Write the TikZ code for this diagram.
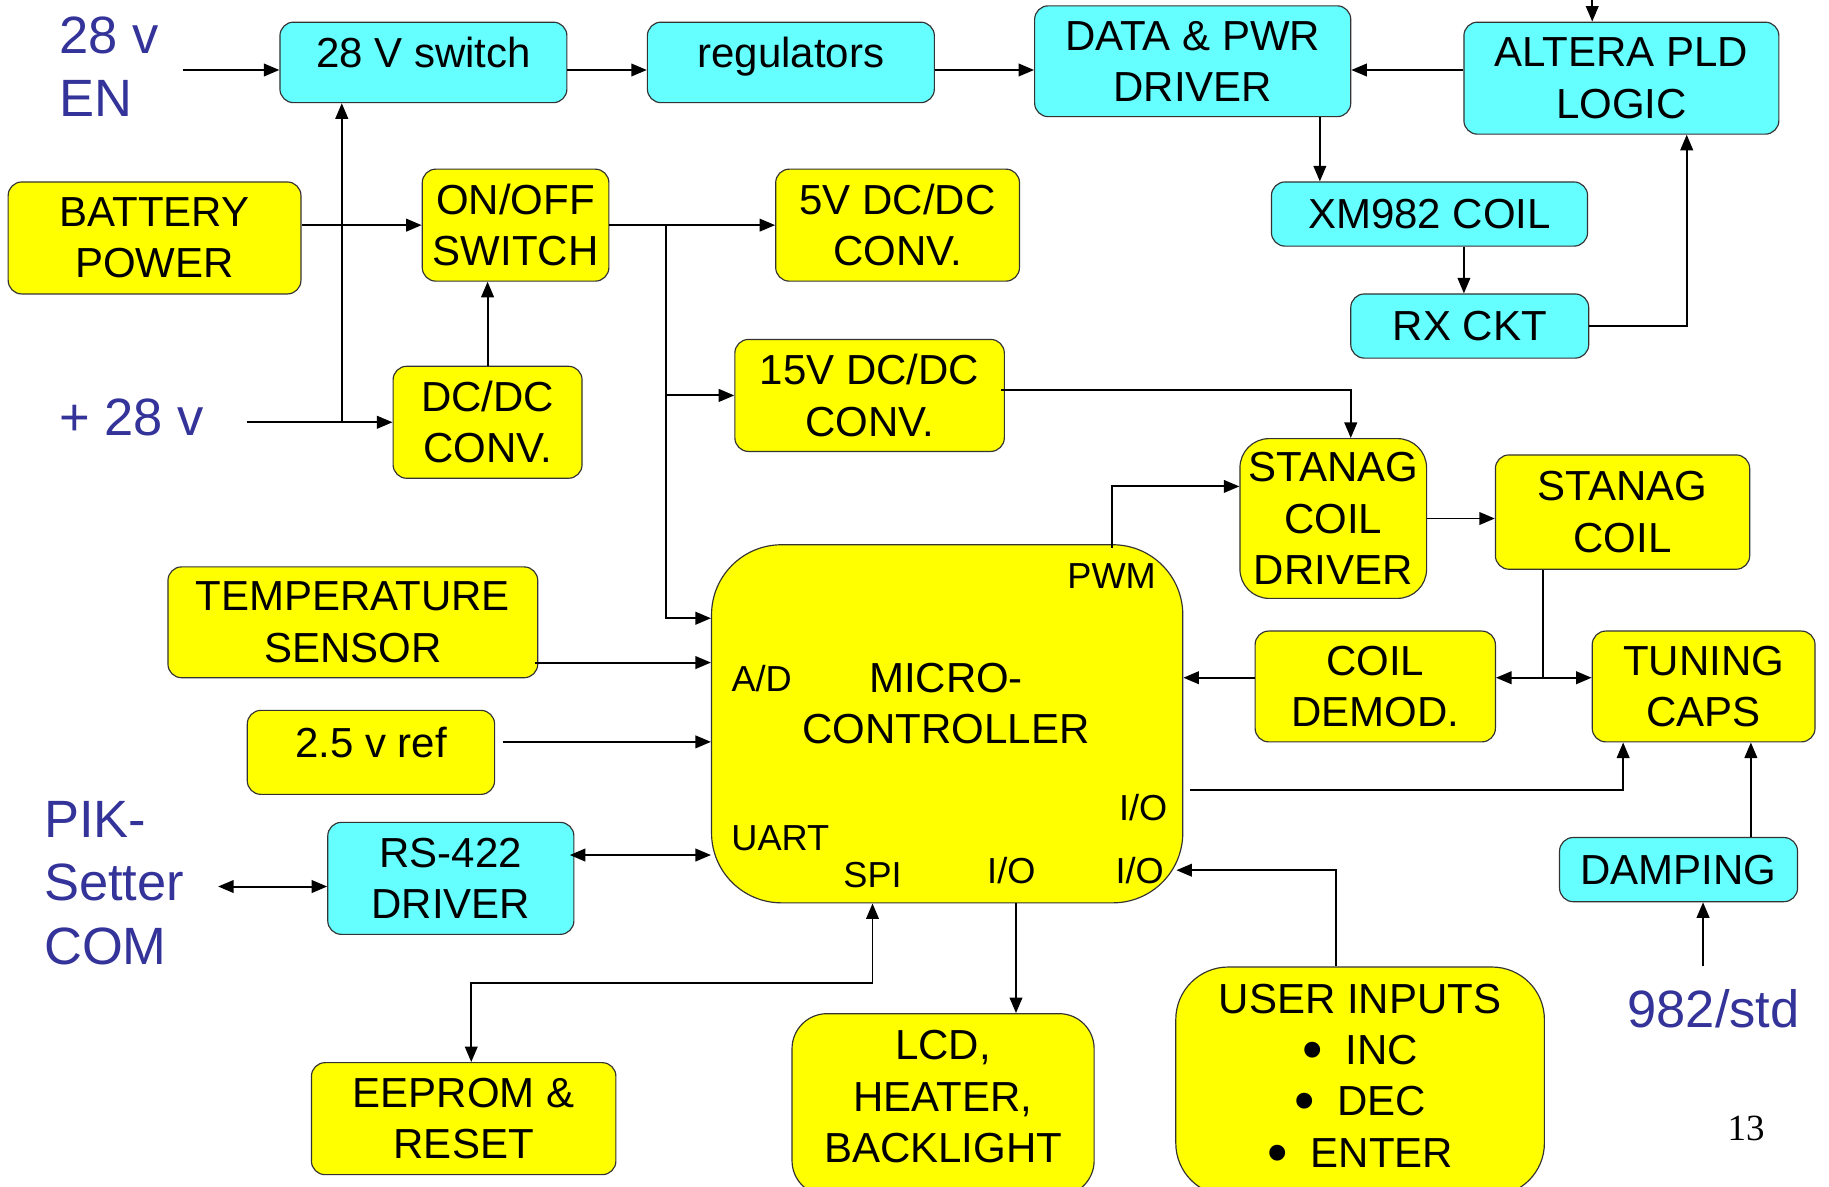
\documentclass[tikz,border=0pt]{standalone}
\usepackage{fontspec}
\setmainfont{Liberation Sans}
\newfontfamily\pgnumfont{Liberation Serif}
\usepackage{tikz}
\usetikzlibrary{arrows.meta,calc}
\definecolor{boxyel}{HTML}{FFFF00}
\definecolor{boxcyan}{HTML}{66FFFF}
\definecolor{lblblue}{HTML}{333399}
\newcommand\bigdot{\raisebox{-2.5pt}{\fontsize{30}{26.4}\selectfont\textbullet}\hspace{0.55em}}

\begin{document}
\begin{tikzpicture}[x=0.6pt,y=-0.6pt,
   font=\fontsize{21.6}{26.4}\selectfont,
   ybox/.style={draw=black!80,line width=0.6pt,rounded corners=7pt,fill=boxyel,
              align=center,inner sep=0pt},
   cbox/.style={ybox,fill=boxcyan},
   boxwh/.style 2 args={minimum width=#1*0.6pt,minimum height=#2*0.6pt},
   hitext/.style={text height=15.6pt,text depth=10.4pt},
   lbl/.style={text=lblblue,align=left,inner sep=0pt,font=\fontsize{27}{32.5}\selectfont},
   pin/.style={inner sep=0pt,font=\fontsize{18.6}{22}\selectfont},
   line width=1pt,>={Triangle[length=8pt,width=6.5pt]},
]
\useasboundingbox (0,0) rectangle (1568,1017);
\clip (0,0) rectangle (1568,1017);
\fill[white] (0,0) rectangle (1568,1017);

% cyan blocks
\node[cbox,boxwh={246}{69},hitext] (sw28) at (363,53.5) {28 V switch};
\node[cbox,boxwh={246}{69},hitext] (reg) at (678,53.5) {regulators};
\node[cbox,boxwh={271}{95}] (drv) at (1022.5,52.5) {DATA \& PWR\\DRIVER};
\node[cbox,boxwh={270}{96}] (pld) at (1390,67) {ALTERA PLD\\LOGIC};
\node[cbox,boxwh={271}{55}] (xm) at (1225.5,183.5) {XM982 COIL};
\node[cbox,boxwh={204}{55}] (rx) at (1260,279.5) {RX CKT};
\node[cbox,boxwh={204}{55}] (damp) at (1439,745.5) {DAMPING};
\node[cbox,boxwh={211}{96}] (rs) at (386.5,753) {RS-422\\DRIVER};

% yellow blocks
\node[ybox,boxwh={251}{96}] (batt) at (132.5,204) {BATTERY\\POWER};
\node[ybox,boxwh={160}{96}] (onoff) at (442,193) {ON/OFF\\SWITCH};
\node[ybox,boxwh={209}{96}] (dc5) at (769.5,193) {5V DC/DC\\CONV.};
\node[ybox,boxwh={231}{96}] (dc15) at (745.5,339) {15V DC/DC\\CONV.};
\node[ybox,boxwh={162}{96}] (dcdc) at (418,362) {DC/DC\\CONV.};
\node[ybox,boxwh={160}{137},rounded corners=15pt] (drvst) at (1143,444.5) {STANAG\\COIL\\DRIVER};
\node[ybox,boxwh={218}{98}] (coil) at (1391,439) {STANAG\\COIL};
\node[ybox,boxwh={206}{95}] (demod) at (1179,588.5) {COIL\\DEMOD.};
\node[ybox,boxwh={191}{95}] (tune) at (1460.5,588.5) {TUNING\\CAPS};
\node[ybox,boxwh={317}{95}] (temp) at (302.5,533.5) {TEMPERATURE\\SENSOR};
\node[ybox,boxwh={212}{72},hitext] (ref) at (318,645) {2.5 v ref};
\node[ybox,boxwh={261}{96}] (eep) at (397.5,959) {EEPROM \&\\RESET};
\node[ybox,boxwh={259}{156},rounded corners=18pt,text depth=8.4pt] (lcd) at (808.5,947)
     {LCD,\\HEATER,\\BACKLIGHT};
\node[ybox,boxwh={316}{196},rounded corners=27pt,text depth=6pt] (user) at (1166,927)
     {USER INPUTS\\\bigdot INC\\\bigdot DEC\\\bigdot ENTER};

% micro-controller and its ports
\node[ybox,boxwh={404}{307},rounded corners=36pt] (mcu) at (812,620.5) {};
\node[align=center,inner sep=0pt] (mcutxt) at (811,603) {MICRO-\\CONTROLLER};
\node[pin] (pwm) at (953,494) {PWM};
\node[pin] (ad) at (653,582) {A/D};
\node[pin] (io1) at (980,692) {I/O};
\node[pin] (uart) at (669,719) {UART};
\node[pin] (spi) at (748,750) {SPI};
\node[pin] (io2) at (867,746) {I/O};
\node[pin] (io3) at (977,746) {I/O};

% outside signals
\node[lbl,anchor=west] (en) at (50,57.5) {28 v\\EN};
\node[lbl,anchor=west] (p28) at (50,358) {+ 28 v};
\node[lbl,anchor=west] (pik) at (37,757) {PIK-\\Setter\\COM};
\node[lbl] (std) at (1469,865) {982/std};
\node[font=\pgnumfont\fontsize{19}{22}\selectfont] (pg) at (1497,967) {13};

\coordinate (enout) at (157,60);
\coordinate (p28out) at (212,362);
\coordinate (tap28) at (293,362);
\coordinate (bus) at (571,193);
\coordinate (tj) at (1323,581);
\coordinate (pldin) at (1365,0);
\coordinate (stdout) at (1460,828);
\coordinate (pikout) at (187,760);

% top chain
\draw[->] (enout) -- (enout -| sw28.west);
\draw[->] (sw28.east |- enout) -- (reg.west |- enout);
\draw[->] (reg.east |- enout) -- (drv.west |- enout);
\draw[->] (pld.west |- enout) -- (drv.east |- enout);
\draw[->] (pldin) -- (pldin |- pld.north);
\draw[->] ($(drv.south east)+(-27,0)$) coordinate (d1) -- (d1 |- xm.north);
\draw[->] ($(xm.south)+(29.5,0)$) coordinate (x1) -- (x1 |- rx.north);
\draw[->] (rx.east) -| ($(pld.south)+(56,0)$);

% power
\draw[->] (batt.east |- onoff.west) -- (onoff.west);
\draw[->] (p28out) -- (dcdc.west);
\draw[->] (tap28) -- (tap28 |- sw28.south);
\draw[->] (dcdc.north) -- (dcdc.north |- onoff.south);
\draw[->] (onoff.east) -- (dc5.west);
\draw[->] (bus) |- ($(mcu.west)+(0,-90.5)$);
\draw[->] (bus |- dc15.west) -- (dc15.west);
\draw[->] ($(dc15.east)+(-3,-5)$) -| ($(drvst.north)+(15,0)$);

% stanag coil loop
\draw[->] ($(mcu.north)+(141,3)$) |- ($(drvst.west)+(0,-27.5)$);
\draw[->] (drvst.east) -- (drvst.east -| coil.west);
\draw (tj |- coil.south) -- (tj);
\draw[<->] (demod.east |- tj) -- (tune.west |- tj);
\draw[->] (demod.west |- tj) -- (mcu.east |- tj);
\draw[->] ($(mcu.east)+(6,56.5)$) -| ($(tune.south west)+(27,0)$);
\draw[->] ($(damp.north)+(62,0)$) coordinate (dm) -- (dm |- tune.south);
\draw[->] (stdout) -- (stdout |- damp.south);

% A/D, UART, SPI, I/O
\draw[->] ($(temp.east)+(-3,34.5)$) coordinate (t1) -- (t1 -| mcu.west);
\draw[->] ($(ref.east)+(7,-9)$) coordinate (r1) -- (r1 -| mcu.west);
\draw[<->] (pikout) -- (pikout -| rs.west);
\draw[<->] ($(rs.east)+(-4,-20)$) coordinate (u1) -- (u1 -| mcu.west);
\draw[<->] ($(mcu.south)+(-64,0)$) -- ++(0,68) -| ($(eep.north)+(6.5,0)$);
\draw[->] ($(mcu.south)+(59,0)$) coordinate (l1) -- (l1 |- lcd.north);
\draw[->] ($(user.north)+(-21,0)$) |- ($(mcu.east)+(-6,125.5)$);
\end{tikzpicture}
\end{document}
